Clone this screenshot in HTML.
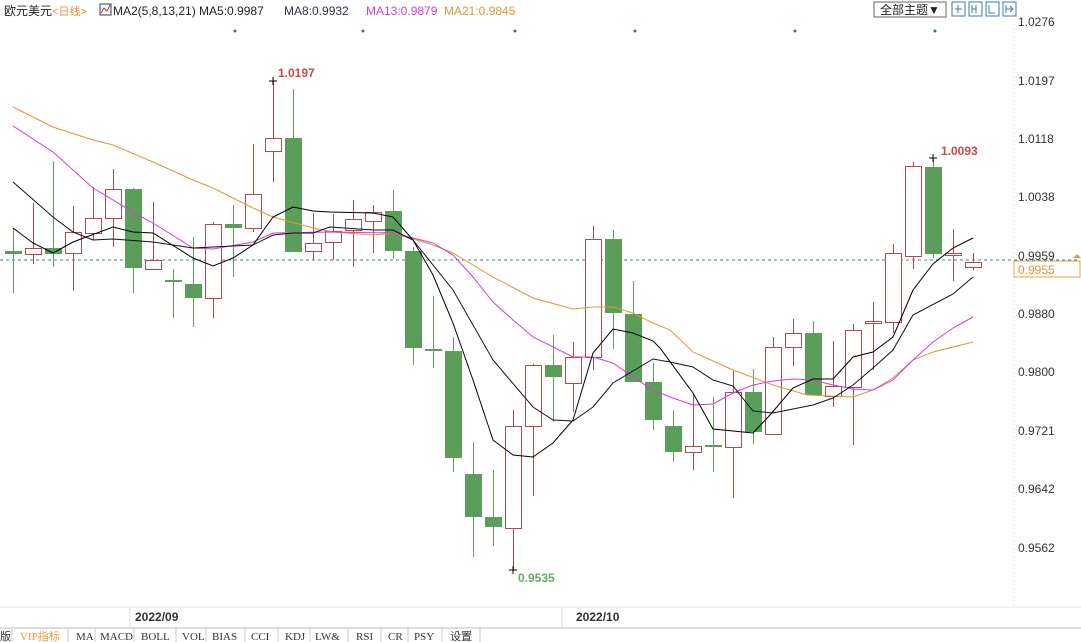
<!DOCTYPE html>
<html><head><meta charset="utf-8"><style>
body{margin:0;width:1081px;height:642px;overflow:hidden;background:#fff;font-family:"Liberation Sans","Noto Sans CJK SC",sans-serif}
svg{display:block}
</style></head><body>
<svg width="1081" height="642" viewBox="0 0 1081 642" xmlns="http://www.w3.org/2000/svg">
<rect width="1081" height="642" fill="#fff"/>
<!-- header -->
<text x="4" y="15" font-size="12" fill="#222" font-family="Liberation Sans,Noto Sans CJK SC,sans-serif">欧元美元<tspan fill="#e8923a" font-size="11">&lt;日线&gt;</tspan></text>
<rect x="100" y="4" width="11" height="11" fill="#fff" stroke="#336" stroke-width="1"/>
<path d="M101,13 L104,8 L107,11 L110,5" stroke="#c33" fill="none"/>
<text x="113" y="15" font-size="12" fill="#222">MA2(5,8,13,21) MA5:0.9987</text>
<text x="284" y="15" font-size="12" fill="#334">MA8:0.9932</text>
<text x="366" y="15" font-size="12" fill="#d63cd6">MA13:0.9879</text>
<text x="444" y="15" font-size="12" fill="#e0963a">MA21:0.9845</text>
<rect x="874" y="2" width="72" height="15" fill="#fff" stroke="#666"/>
<text x="880" y="14" font-size="12" fill="#222">全部主题▼</text>
<g fill="#fff" stroke="#3a7ab0">
<rect x="952" y="2" width="13" height="14"/><rect x="969" y="2" width="13" height="14"/><rect x="986" y="2" width="13" height="14"/><rect x="1003" y="2" width="13" height="14"/></g>
<g stroke="#3a7ab0" fill="none"><path d="M958,5v8M955,9h7M972,5v8M976,5v8M972,9h4M989,5v8h6M1006,5v8M1006,9h6M1010,6l3,3-3,3"/></g>
<!-- axis separator -->
<line x1="1014" y1="20" x2="1014" y2="607" stroke="#ddd" stroke-dasharray="1,3"/>
<!-- axis labels -->
<g font-size="12" fill="#333">
<text x="1018" y="26">1.0276</text><text x="1018" y="85">1.0197</text><text x="1018" y="143">1.0118</text>
<text x="1018" y="201">1.0038</text><text x="1018" y="260">0.9959</text><text x="1018" y="318">0.9880</text>
<text x="1018" y="376">0.9800</text><text x="1018" y="435">0.9721</text><text x="1018" y="493">0.9642</text><text x="1018" y="552">0.9562</text>
</g>
<g fill="#3a6f8a"><circle cx="235" cy="31" r="1.5"/><circle cx="363" cy="31" r="1.5"/><circle cx="515" cy="31" r="1.5"/><circle cx="635" cy="31" r="1.5"/><circle cx="795" cy="31" r="1.5"/><circle cx="935" cy="31" r="1.5"/></g>
<line x1="0" y1="260" x2="1078" y2="260" stroke="#3a86b0" stroke-dasharray="3,3"/>
<rect x="1014" y="261" width="66" height="16" fill="#fff" stroke="#e8a040"/>
<text x="1018" y="274" font-size="12" fill="#e8923a">0.9955</text>
<path d="M1073,258l4,-4 4,4z" fill="#e8923a"/>
<!-- candles -->
<g id="c" stroke-width="1"></g>
<!-- MAs -->
<polyline fill="none" stroke="#e0963a" stroke-width="1" points="13,107 53,127 93,140 113,145 153,162 193,180 213,188 253,208 273,217 313,228 333,232 373,235 393,233 433,245 453,253 493,277 533,298 573,309 593,307 613,307 633,313 653,323 670,330 693,352 733,370 773,385 807,395 853,397 873,390 893,378 913,360 933,352 973,342"/>
<polyline fill="none" stroke="#d63cd6" stroke-width="1" points="13,126 53,152 93,188 133,212 153,223 193,248 213,249 253,242 273,233 330,232 393,233 433,243 453,255 473,277 493,302 513,320 533,337 573,357 593,357 613,363 633,377 653,390 670,397 693,405 713,404 733,393 753,385 773,381 793,379 813,380 833,385 853,389 873,390 893,380 913,360 933,342 953,328 973,317"/>
<polyline fill="none" stroke="#112" stroke-width="1" points="13,182 53,217 73,232 93,240 113,239 153,242 193,248 213,247 253,245 273,235 293,233 313,233 330,227 373,230 393,230 413,240 453,290 493,360 533,407 553,420 573,421 593,407 613,383 653,359 670,362 693,367 713,380 733,386 753,411 773,413 813,405 833,398 853,385 873,368 893,350 913,315 953,294 973,277"/>
<polyline fill="none" stroke="#000" stroke-width="1" points="13,228 33,243 53,253 73,242 113,227 133,232 153,233 193,258 213,266 233,258 253,245 273,217 293,207 313,211 330,212 373,213 393,217 413,240 433,275 453,323 473,380 493,440 513,455 533,457 553,443 573,420 593,353 613,329 633,333 653,341 660,348 693,393 713,429 753,433 770,415 793,388 813,379 833,379 853,357 873,352 893,337 913,290 933,264 953,248 973,238"/>
<!-- annotations -->
<path d="M269,81h8M273,77v8M509,570h8M513,566v8M929,158h8M933,154v8" stroke="#000"/>
<text x="278" y="77" font-size="12" font-weight="bold" fill="#c84a4a">1.0197</text>
<text x="518" y="582" font-size="12" font-weight="bold" fill="#6aa86a">0.9535</text>
<text x="941" y="155" font-size="12" font-weight="bold" fill="#c84a4a">1.0093</text>
<!-- date row -->
<line x1="0" y1="607" x2="1081" y2="607" stroke="#e4e4e4"/>
<line x1="130" y1="607" x2="130" y2="627" stroke="#ddd"/>
<line x1="562" y1="607" x2="562" y2="627" stroke="#ddd"/>
<text x="135" y="621" font-size="12" font-weight="bold" fill="#333">2022/09</text>
<text x="576" y="621" font-size="12" font-weight="bold" fill="#333">2022/10</text>
<line x1="0" y1="628" x2="1081" y2="628" stroke="#bbb"/>
<g font-size="11" fill="#333" font-family="Liberation Serif,Noto Sans CJK SC,serif">
<text x="0" y="640">版</text>
<text x="20" y="640" fill="#e8a040">VIP指标</text>
<text x="76" y="640">MA</text><text x="100" y="640">MACD</text><text x="141" y="640">BOLL</text>
<text x="182" y="640">VOL</text><text x="212" y="640">BIAS</text><text x="251" y="640">CCI</text>
<text x="285" y="640">KDJ</text><text x="315" y="640">LW&amp;</text><text x="356" y="640">RSI</text>
<text x="388" y="640">CR</text><text x="414" y="640">PSY</text><text x="450" y="640">设置</text>
</g>
<g stroke="#ccc"><path d="M12,628v14M68,628v14M95,628v14M134,628v14M176,628v14M206,628v14M245,628v14M278,628v14M310,628v14M348,628v14M381,628v14M408,628v14M442,628v14M480,628v14"/></g>
</svg>
<script>
var d=[
// [type,bodyTop,bodyBot,high,low]  r=up hollow red, g=down green
['g',251,254,228,293],['r',248,254,203,264],['g',248,254,161,267],['r',232,253,206,291],
['r',218,233,187,240],['r',189,218,169,247],['g',189,268,188,293],['r',260,269,202,269],
['g',280,282,269,318],['g',284,298,237,327],['r',224,298,222,318],['g',224,228,205,277],
['r',194,228,144,232],['r',138,151,81,182],['g',138,252,89,252],['r',243,251,213,260],
['r',231,242,214,260],['r',219,230,200,267],['r',212,221,205,253],['g',211,251,190,259],
['g',251,348,247,365],['g',349,351,296,368],['g',351,458,337,472],['g',474,517,442,557],
['g',517,527,470,546],['r',426,528,410,570],['r',365,426,364,496],['g',365,377,335,422],
['r',357,383,342,412],['r',239,357,226,370],['g',239,313,230,349],['g',314,382,281,382],
['g',382,420,363,430],['g',426,452,410,462],['r',446,452,394,470],['g',445,447,397,472],
['r',392,447,371,498],['g',392,432,369,444],['r',347,434,337,434],['r',333,347,319,366],
['g',333,395,321,395],['r',386,396,341,407],['r',330,387,324,445],['r',321,323,302,370],
['r',253,322,244,333],['r',166,256,162,269],['g',167,254,158,258],['r',253,255,229,281],
['r',262,267,253,270]];
var g=document.getElementById('c'),s='',ns='http://www.w3.org/2000/svg';
d.forEach(function(c,i){var x=13+20*i,col=c[0]=='r'?'#b5484a':'#5a9e5a';
s+='<line x1="'+(x+.5)+'" y1="'+c[3]+'" x2="'+(x+.5)+'" y2="'+c[4]+'" stroke="'+col+'"/>';
var h=Math.max(c[2]-c[1],1);
if(c[0]=='r')s+='<rect x="'+(x-7.5)+'" y="'+(c[1]+.5)+'" width="16" height="'+h+'" fill="#fff" stroke="'+col+'"/>';
else s+='<rect x="'+(x-8)+'" y="'+c[1]+'" width="17" height="'+h+'" fill="'+col+'"/>';});
g.innerHTML=s;
</script>
</body></html>
